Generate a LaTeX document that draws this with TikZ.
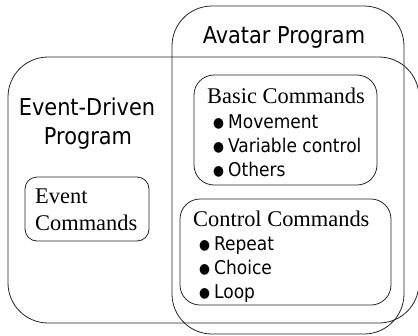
\documentclass[tikz,border=0pt]{standalone}
\usepackage{fontspec}
\setmainfont{Liberation Serif}
\setsansfont{DejaVu Sans Condensed}
\usepackage{tikz}
\usetikzlibrary{positioning}
\newcommand{\blt}{\makebox[15bp][l]{\raisebox{1bp}{\fontsize{14}{14}\selectfont ●}}}
\tikzset{
    bigbox/.style={draw=black!85, line width=0.8bp, rounded corners=40bp},
    smallbox/.style={draw=black!85, line width=0.8bp, rounded corners=20bp},
    title/.style={font=\sffamily\fontsize{23.3}{24}\selectfont, inner sep=0pt},
    head/.style={font=\rmfamily\fontsize{22.5}{24}\selectfont, inner sep=0pt, anchor=base west},
    entry/.style={font=\sffamily\fontsize{19}{24}\selectfont, inner sep=0pt, anchor=base west},
}

\begin{document}
\begin{tikzpicture}[x=1bp, y=-1bp]
	\useasboundingbox (0,0) rectangle (418,336);
	\clip (0,0) rectangle (418,336);
	% outer sets
	\draw[bigbox] (8,57) rectangle (419,323);
	\draw[bigbox] (172,6) rectangle (404,334);
	\node[title, anchor=base] (avatar) at (284,43) {Avatar Program};
	\node[title, anchor=base] (event) at (87,115) {Event-Driven};
	\node[title, anchor=base] (eventb) at (88,144) {Program};
	% event commands
	\draw[smallbox, rounded corners=12bp] (25,177) rectangle (149,241);
	\node[head] (evcmd) at (35,203) {Event};
	\node[head] (evcmdb) at (35,230) {Commands};
	% basic commands
	\draw[smallbox] (194,75) rectangle (377,185);
	\node[head] (basic) at (207,103) {Basic Commands};
	\node[entry] (move) at (213,128) {\blt Movement};
	\node[entry] (var) at (213,152) {\blt Variable control};
	\node[entry] (other) at (213,176) {\blt Others};
	% control commands
	\draw[smallbox] (180,199) rectangle (391,305);
	\node[head] (control) at (193,226) {Control Commands};
	\node[entry] (repeat) at (199,250) {\blt Repeat};
	\node[entry] (choice) at (199,274) {\blt Choice};
	\node[entry] (loop) at (199,298) {\blt Loop};
\end{tikzpicture}
\end{document}
